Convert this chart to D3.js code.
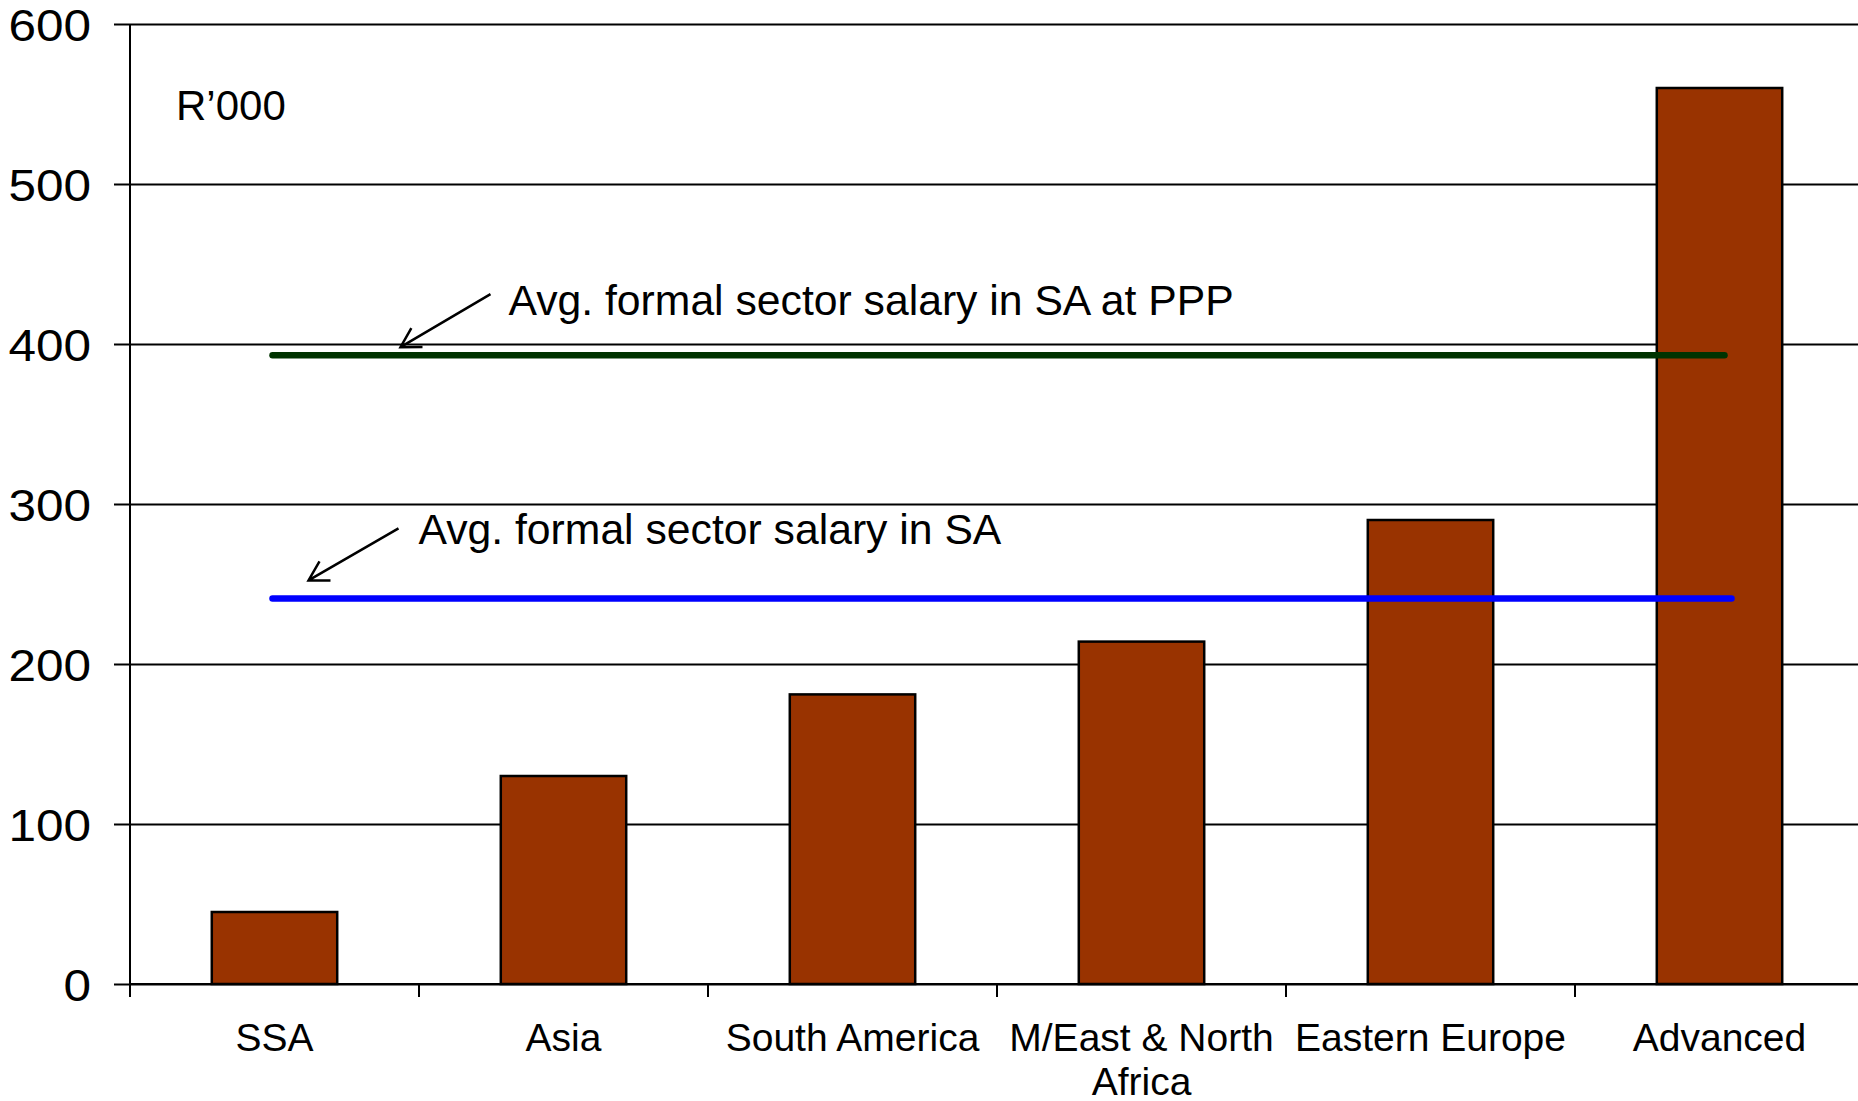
<!DOCTYPE html>
<html>
<head>
<meta charset="utf-8">
<script src="https://cdn.jsdelivr.net/npm/d3@7"></script>
<style>
  body { margin: 0; background: #fff; }
  svg text { font-family: "Liberation Sans", Arial, sans-serif; fill: #000; }
</style>
</head>
<body>
<script>
// data (R'000)
var regions = ["SSA", "Asia", "South America", "M/East & North Africa", "Eastern Europe", "Advanced"];
var salaries = [45, 130, 181, 214, 290, 560];
var yTicks = [0, 100, 200, 300, 400, 500, 600];
var refValues = [393, 241];
var refLabels = ["Avg. formal sector salary in SA at PPP", "Avg. formal sector salary in SA"];
var refColours = ["#003300", "#0000ff"];

var breedte = 1858, hoogte = 1101;
var marge = {boven: 24, links: 130, beneden: 117};
var asX0 = marge.links, asX1 = 1864;   // plot area runs a bit past the right edge
var basis = hoogte - marge.beneden;

var svg = d3.select("body").append("svg")
    .attr("width", breedte)
    .attr("height", hoogte);

// schalen
var y = d3.scaleLinear().domain([0, 600]).range([basis, marge.boven]);
var xCat = d3.scaleBand().domain(regions).range([asX0, asX1]).padding(0);
var xBar = d3.scaleBand().domain(regions).range([asX0, asX1])
    .paddingInner(0.566).paddingOuter(0.283);

// rasterlijnen
svg.append("g")
    .attr("transform", "translate(" + asX0 + ",0)")
    .call(d3.axisLeft(y).tickValues(yTicks).tickSize(-(breedte - asX0)).tickFormat(""))
    .call(function(g) { g.select(".domain").remove(); })
    .selectAll("line")
    .attr("stroke", "#000")
    .attr("stroke-width", 2);

// y-as met labels (iets breder getekend, zoals in het origineel)
var rek = 1.1;
var yAs = svg.append("g")
    .attr("transform", "translate(" + asX0 + ",0)")
    .call(d3.axisLeft(y).tickValues(yTicks).tickSize(16).tickFormat(d3.format("d")));
yAs.select(".domain").remove();
yAs.selectAll("line").attr("stroke", "#000").attr("stroke-width", 2);
yAs.selectAll("text")
    .attr("font-size", "45px")
    .attr("x", -39 / rek)
    .attr("dy", "0.36em")
    .attr("transform", "scale(" + rek + ",1)");

// verticale as-lijn
svg.append("line")
    .attr("x1", asX0).attr("x2", asX0)
    .attr("y1", y(600)).attr("y2", basis + 13)
    .attr("stroke", "#000").attr("stroke-width", 2);

// staven
svg.selectAll(".staaf")
    .data(salaries)
    .enter()
    .append("rect")
    .attr("class", "staaf")
    .attr("x", function(d, i) { return xBar(regions[i]); })
    .attr("y", function(d) { return y(d); })
    .attr("width", xBar.bandwidth())
    .attr("height", function(d) { return y(0) - y(d); })
    .attr("fill", "#993300")
    .attr("stroke", "#000")
    .attr("stroke-width", 2.5);

// x-as
var xAs = svg.append("g")
    .attr("transform", "translate(0," + basis + ")")
    .call(d3.axisBottom(xCat).tickSize(0).tickPadding(0));
xAs.select(".domain").remove();
xAs.selectAll("text")
    .attr("font-size", "39px")
    .attr("y", 67)
    .attr("dy", 0)
    .call(wrap, xCat.step() - 8);

svg.append("line")
    .attr("x1", asX0).attr("x2", breedte)
    .attr("y1", basis).attr("y2", basis)
    .attr("stroke", "#000").attr("stroke-width", 2);

// streepjes tussen de categorieën
svg.selectAll(".xtick")
    .data(regions.slice(1))
    .enter()
    .append("line")
    .attr("class", "xtick")
    .attr("x1", function(d) { return xCat(d); })
    .attr("x2", function(d) { return xCat(d); })
    .attr("y1", basis).attr("y2", basis + 13)
    .attr("stroke", "#000").attr("stroke-width", 2);

// referentielijnen
var lijnStart = xCat(regions[0]) + xCat.bandwidth() / 2 - 2;
var lijnEind = xCat(regions[regions.length - 1]) + xCat.bandwidth() / 2;
var lijnEinde = [lijnEind + 5, lijnEind + 12];

svg.selectAll(".ref")
    .data(refValues)
    .enter()
    .append("line")
    .attr("class", "ref")
    .attr("x1", lijnStart)
    .attr("x2", function(d, i) { return lijnEinde[i]; })
    .attr("y1", function(d) { return y(d); })
    .attr("y2", function(d) { return y(d); })
    .attr("stroke", function(d, i) { return refColours[i]; })
    .attr("stroke-width", 6.5)
    .attr("stroke-linecap", "round");

// annotaties met pijltjes (offsets t.o.v. begin van de lijn)
var notities = [
  {tekst: 236, basis: -40, van: [218, -61], naar: [128, -8]},
  {tekst: 146, basis: -54, van: [126, -70], naar: [36, -18]}
];

notities.forEach(function(n, i) {
  var ly = y(refValues[i]);
  svg.append("text")
      .attr("x", lijnStart + n.tekst)
      .attr("y", ly + n.basis)
      .attr("font-size", "42.7px")
      .text(refLabels[i]);

  var x1 = lijnStart + n.van[0], y1 = ly + n.van[1];
  var x2 = lijnStart + n.naar[0], y2 = ly + n.naar[1];
  var hoek = Math.atan2(y1 - y2, x1 - x2);
  var len = 22;
  var pijl = "M" + x1 + "," + y1 + "L" + x2 + "," + y2 +
      "M" + (x2 + len * Math.cos(hoek + Math.PI / 6)) + "," + (y2 + len * Math.sin(hoek + Math.PI / 6)) +
      "L" + x2 + "," + y2 +
      "L" + (x2 + len * Math.cos(hoek - Math.PI / 6)) + "," + (y2 + len * Math.sin(hoek - Math.PI / 6));
  svg.append("path")
      .attr("d", pijl)
      .attr("fill", "none")
      .attr("stroke", "#000")
      .attr("stroke-width", 2.5);
});

// eenheid
svg.append("text")
    .attr("x", 176)
    .attr("y", 120)
    .attr("font-size", "42px")
    .text("R\u2019000");

// labels over meerdere regels
function wrap(tekst, w) {
  tekst.each(function() {
    var t = d3.select(this),
        woorden = t.text().split(/\s+/).reverse(),
        woord, regel = [], nr = 0,
        yy = t.attr("y"),
        tspan = t.text(null).append("tspan").attr("x", 0).attr("y", yy).attr("dy", "0em");
    while (woord = woorden.pop()) {
      regel.push(woord);
      tspan.text(regel.join(" "));
      if (tspan.node().getComputedTextLength() > w && regel.length > 1) {
        regel.pop();
        tspan.text(regel.join(" "));
        regel = [woord];
        tspan = t.append("tspan").attr("x", 0).attr("y", yy).attr("dy", ++nr * 1.13 + "em").text(woord);
      }
    }
  });
}
</script>
</body>
</html>
